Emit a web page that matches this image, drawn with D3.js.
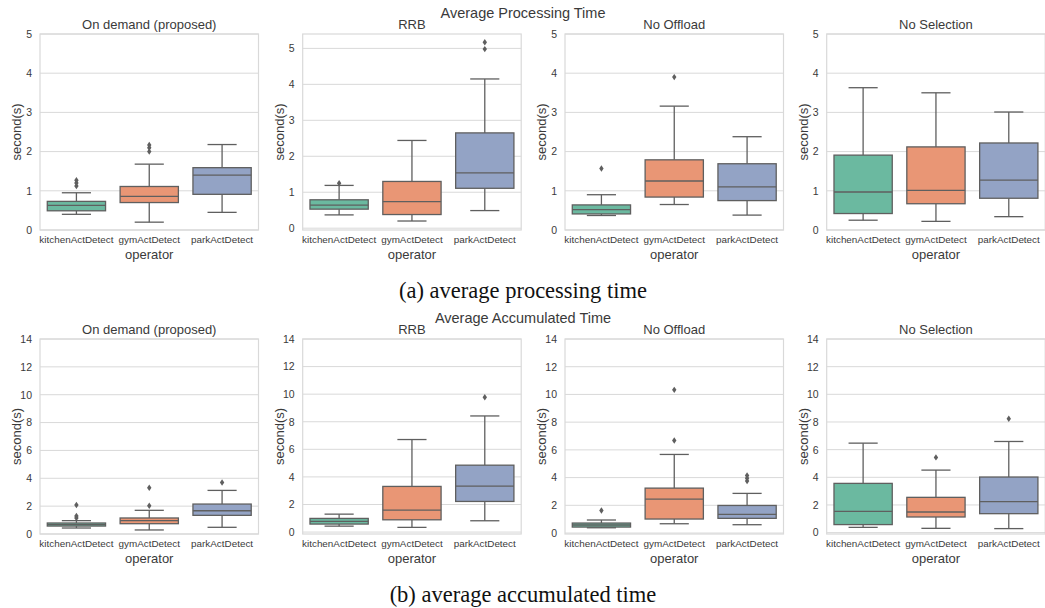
<!DOCTYPE html>
<html>
<head>
<meta charset="utf-8">
<script src="https://cdn.jsdelivr.net/npm/d3@7"></script>
<style>
  body { margin: 0; background: #fff; }
  svg { display: block; font-family: "Liberation Sans", Arial, sans-serif; }
</style>
</head>
<body>
<svg id="chart"></svg>
<script>
// Categories
const operators = ["kitchenActDetect", "gymActDetect", "parkActDetect"];
const methods = ["On demand (proposed)", "RRB", "No Offload", "No Selection"];
const palette = ["#6bb9a0", "#e99675", "#93a3c5"];

// Box stats per operator: [lowWhisker, q1, median, q3, highWhisker]
// (a) average processing time
const procOnDemand = [[0.40, 0.49, 0.63, 0.73, 0.95], [0.20, 0.70, 0.86, 1.11, 1.68], [0.45, 0.91, 1.40, 1.59, 2.18]];
const procOnDemandOut = [[1.12, 1.20, 1.27], [2.00, 2.10, 2.17], []];
const procRRB = [[0.37, 0.53, 0.64, 0.79, 1.19], [0.20, 0.38, 0.74, 1.30, 2.44], [0.49, 1.11, 1.54, 2.65, 4.15]];
const procRRBOut = [[1.25], [], [4.98, 5.17]];
const procNoOffload = [[0.37, 0.41, 0.52, 0.64, 0.90], [0.65, 0.84, 1.25, 1.79, 3.16], [0.38, 0.75, 1.10, 1.69, 2.38]];
const procNoOffloadOut = [[1.57], [3.90], []];
const procNoSelection = [[0.25, 0.42, 0.97, 1.91, 3.63], [0.22, 0.67, 1.01, 2.12, 3.50], [0.34, 0.81, 1.27, 2.22, 3.01]];
const procNoSelectionOut = [[], [], []];

// (b) average accumulated time
const accOnDemand = [[0.43, 0.57, 0.67, 0.79, 0.96], [0.29, 0.74, 0.96, 1.15, 1.70], [0.48, 1.34, 1.67, 2.15, 3.13]];
const accOnDemandOut = [[1.15, 1.29, 2.08], [2.03, 3.32], [3.70]];
const accRRB = [[0.43, 0.58, 0.77, 0.99, 1.30], [0.34, 0.89, 1.59, 3.31, 6.71], [0.82, 2.22, 3.33, 4.85, 8.42]];
const accRRBOut = [[], [], [9.78]];
const accNoOffload = [[0.38, 0.43, 0.58, 0.72, 0.94], [0.67, 1.01, 2.45, 3.24, 5.67], [0.60, 1.06, 1.34, 1.99, 2.86]];
const accNoOffloadOut = [[1.63], [6.68, 10.33], [3.75, 3.95, 4.15]];
const accNoSelection = [[0.38, 0.58, 1.54, 3.56, 6.47], [0.31, 1.13, 1.49, 2.55, 4.52], [0.29, 1.37, 2.24, 4.02, 6.59]];
const accNoSelectionOut = [[], [5.44], [8.23]];

// Axis ranges and ticks
const procDomains = [[0, 5], [-0.05, 5.4], [0, 5], [0, 5]];
const procTicks = [0, 1, 2, 3, 4, 5];
const accDomains = [[0, 14], [-0.14, 14], [-0.07, 14], [-0.1, 14]];
const accTicks = [0, 2, 4, 6, 8, 10, 12, 14];

const rows = [
  {
    suptitle: "Average Processing Time", caption: "(a) average processing time",
    stats: [procOnDemand, procRRB, procNoOffload, procNoSelection],
    outs: [procOnDemandOut, procRRBOut, procNoOffloadOut, procNoSelectionOut],
    domains: procDomains, ticks: procTicks, top: 34, bottom: 230, captionY: 298
  },
  {
    suptitle: "Average Accumulated Time", caption: "(b) average accumulated time",
    stats: [accOnDemand, accRRB, accNoOffload, accNoSelection],
    outs: [accOnDemandOut, accRRBOut, accNoOffloadOut, accNoSelectionOut],
    domains: accDomains, ticks: accTicks, top: 339, bottom: 534, captionY: 602
  }
];

const W = 1045, H = 608;
const panelLefts = [40, 302.7, 565, 826.7];
const panelW = 218.5;
const textCol = "#3a3a3a";
const lineCol = "#5f5f5f";
const gridCol = "#d9d9d9";

const svg = d3.select("#chart").attr("width", W).attr("height", H);
svg.append("rect").attr("width", W).attr("height", H).attr("fill", "#fff");

rows.forEach(row => {
  // Figure title
  svg.append("text")
    .attr("x", 523).attr("y", row.top - 16)
    .attr("text-anchor", "middle")
    .style("font-size", "14.5px").attr("fill", textCol)
    .text(row.suptitle);

  methods.forEach((m, pi) => {
    const x0 = panelLefts[pi];
    const g = svg.append("g").attr("transform", `translate(${x0},0)`);

    const x = d3.scaleBand().domain(operators).range([0, panelW]);
    const y = d3.scaleLinear().domain(row.domains[pi]).range([row.bottom, row.top]);
    const bw = x.bandwidth() * 0.8;

    // grid
    g.append("g").selectAll("line")
      .data(row.ticks)
      .join("line")
      .attr("x1", 0).attr("x2", panelW)
      .attr("y1", d => y(d)).attr("y2", d => y(d))
      .attr("stroke", gridCol).attr("stroke-width", 1);

    // frame
    g.append("rect")
      .attr("x", 0).attr("y", row.top)
      .attr("width", panelW).attr("height", row.bottom - row.top)
      .attr("fill", "none").attr("stroke", gridCol).attr("stroke-width", 1.2);

    // y axis
    const yAxis = g.append("g")
      .call(d3.axisLeft(y).tickValues(row.ticks).tickSize(0).tickPadding(8).tickFormat(d3.format("d")));
    yAxis.select(".domain").remove();
    yAxis.selectAll("text").style("font-size", "10.5px").attr("fill", textCol);

    // x axis
    const xAxis = g.append("g")
      .attr("transform", `translate(0,${row.bottom})`)
      .call(d3.axisBottom(x).tickSize(0).tickPadding(6));
    xAxis.select(".domain").remove();
    xAxis.selectAll("text").style("font-size", "9.9px").attr("fill", textCol);

    // labels
    g.append("text")
      .attr("x", panelW / 2).attr("y", row.bottom + 29)
      .attr("text-anchor", "middle")
      .style("font-size", "13px").attr("fill", textCol)
      .text("operator");

    g.append("text")
      .attr("transform", `translate(-19,${(row.top + row.bottom) / 2}) rotate(-90)`)
      .attr("text-anchor", "middle")
      .style("font-size", "13px").attr("fill", textCol)
      .text("second(s)");

    g.append("text")
      .attr("x", panelW / 2).attr("y", row.top - 5)
      .attr("text-anchor", "middle")
      .style("font-size", "13px").attr("fill", textCol)
      .text(m);

    // boxes
    const stats = row.stats[pi];
    const boxes = g.selectAll(".box")
      .data(operators.map((op, i) => ({ op, i, s: stats[i], out: row.outs[pi][i] })))
      .join("g").attr("class", "box");

    boxes.each(function (d) {
      const b = d3.select(this);
      const cx = x(d.op) + x.bandwidth() / 2;
      const [lo, q1, med, q3, hi] = d.s;
      // whiskers
      b.append("line").attr("x1", cx).attr("x2", cx).attr("y1", y(q3)).attr("y2", y(hi))
        .attr("stroke", lineCol).attr("stroke-width", 1.3);
      b.append("line").attr("x1", cx).attr("x2", cx).attr("y1", y(q1)).attr("y2", y(lo))
        .attr("stroke", lineCol).attr("stroke-width", 1.3);
      // caps
      [lo, hi].forEach(v => {
        b.append("line").attr("x1", cx - bw / 4).attr("x2", cx + bw / 4)
          .attr("y1", y(v)).attr("y2", y(v))
          .attr("stroke", lineCol).attr("stroke-width", 1.3);
      });
      // box
      b.append("rect")
        .attr("x", cx - bw / 2).attr("width", bw)
        .attr("y", y(q3)).attr("height", y(q1) - y(q3))
        .attr("fill", palette[d.i]).attr("stroke", lineCol).attr("stroke-width", 1.3);
      // median
      b.append("line").attr("x1", cx - bw / 2).attr("x2", cx + bw / 2)
        .attr("y1", y(med)).attr("y2", y(med))
        .attr("stroke", lineCol).attr("stroke-width", 1.3);
      // fliers (thin diamonds)
      b.selectAll(".flier").data(d.out).join("path").attr("class", "flier")
        .attr("d", v => {
          const py = y(v);
          return `M${cx},${py - 3.2}L${cx + 2.2},${py}L${cx},${py + 3.2}L${cx - 2.2},${py}Z`;
        })
        .attr("fill", lineCol);
    });
  });

  // caption
  svg.append("text")
    .attr("x", 523).attr("y", row.captionY)
    .attr("text-anchor", "middle")
    .style("font-family", "'Liberation Serif', 'Times New Roman', serif")
    .style("font-size", "22.5px").attr("fill", "#111")
    .text(row.caption);
});
</script>
</body>
</html>
